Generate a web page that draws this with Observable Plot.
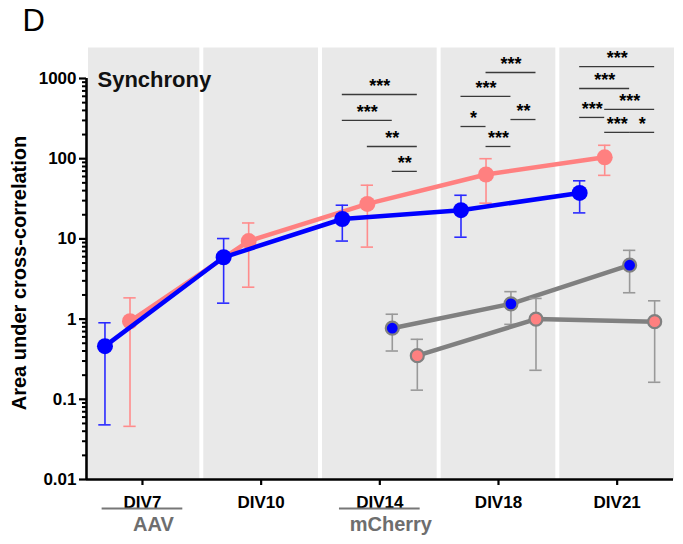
<!DOCTYPE html>
<html><head><meta charset="utf-8">
<script src="https://cdn.jsdelivr.net/npm/d3@7"></script>
<script src="https://cdn.jsdelivr.net/npm/@observablehq/plot@0.6"></script>
<style>
body{margin:0;background:#fff;}
#chart{width:683px;height:544px;}
</style></head><body><div id="chart"></div>
<script>
// ---- data ----
const days = ["DIV7", "DIV10", "DIV14", "DIV18", "DIV21"];
const yTicks = [0.01, 0.1, 1, 10, 100, 1000];

// AAV-transduced cultures (filled symbols, coloured lines)
const aavBlueDays = ["DIV7", "DIV10", "DIV14", "DIV18", "DIV21"];
const aavBlueMean = [0.46, 5.9, 17.7, 22.8, 37.4];
const aavBlueLow  = [0.048, 1.58, 9.4, 10.5, 21.1];
const aavBlueHigh = [0.90, 10.1, 26.3, 35, 53];

const aavPinkDays = ["DIV7", "DIV10", "DIV14", "DIV18", "DIV21"];
const aavPinkMean = [0.94, 9.4, 27.3, 63.5, 104];
const aavPinkLow  = [0.046, 2.5, 7.9, 27.9, 62];
const aavPinkHigh = [1.84, 15.8, 46.7, 100, 147];

// mCherry controls (grey outline, grey lines)
const mchBlueDays = ["DIV14", "DIV18", "DIV21"];
const mchBlueMean = [0.77, 1.55, 4.7];
const mchBlueLow  = [0.40, 0.86, 2.13];
const mchBlueHigh = [1.15, 2.2, 7.2];

const mchPinkDays = ["DIV14", "DIV18", "DIV21"];
const mchPinkMean = [0.35, 1.0, 0.93];
const mchPinkLow  = [0.13, 0.23, 0.163];
const mchPinkHigh = [0.56, 1.81, 1.69];

// significance brackets: day, compared groups (0 AAV blue, 1 AAV pink, 2 mCherry blue, 3 mCherry pink), bracket level, stars
const sigDay   = ["DIV14","DIV14","DIV14","DIV14","DIV18","DIV18","DIV18","DIV18","DIV18","DIV21","DIV21","DIV21","DIV21","DIV21","DIV21"];
const sigFrom  = [0, 0, 1, 2, 1, 0, 0, 2, 1, 0, 0, 1, 0, 1, 2];
const sigTo    = [3, 2, 3, 3, 3, 2, 1, 3, 2, 3, 2, 3, 1, 2, 3];
const sigLevel = [632, 300, 142, 69.5, 1188, 597, 252, 308, 142, 1409, 750, 411, 327, 213, 213];
const sigStars = ["***","***","**","**","***","***","*","**","***","***","***","***","***","***","*"];

const vectorDays   = ["DIV7", "DIV14"];
const vectorLabels = ["AAV", "mCherry"];

// ---- layout helpers ----
const groupOffset = [-0.316, -0.105, 0.105, 0.316];
const xDomain = [-0.4716, 4.5];
const yDomain = [0.01, 1000];
const bandTop = 2400;
const cap = 0.052;
const idx = d => days.indexOf(d);

function rows(ds, mean, lo, hi, g) {
  return ds.map((d, k) => ({x: idx(d) + groupOffset[g], y: mean[k], lo: lo[k], hi: hi[k]}));
}
const series = [
  {rows: rows(mchBlueDays, mchBlueMean, mchBlueLow, mchBlueHigh, 2), line: "#808080", err: "#999999", fill: "#0000ff", stroke: "#808080", r: 6.5, sw: 2.2},
  {rows: rows(mchPinkDays, mchPinkMean, mchPinkLow, mchPinkHigh, 3), line: "#808080", err: "#999999", fill: "#ff8080", stroke: "#808080", r: 6.5, sw: 2.2},
  {rows: rows(aavPinkDays, aavPinkMean, aavPinkLow, aavPinkHigh, 1), line: "#ff8080", err: "#ff8c8c", fill: "#ff8080", stroke: "none", r: 8, sw: 0},
  {rows: rows(aavBlueDays, aavBlueMean, aavBlueLow, aavBlueHigh, 0), line: "#0000ff", err: "#2a2aff", fill: "#0000ff", stroke: "none", r: 8, sw: 0}
];

const brackets = sigDay.map((d, k) => {
  const x1 = idx(d) + groupOffset[sigFrom[k]], x2 = idx(d) + groupOffset[sigTo[k]];
  return {x1, x2, xm: (x1 + x2) / 2, y: sigLevel[k], stars: sigStars[k]};
});
const vectors = vectorDays.map((d, k) => ({x: idx(d), label: vectorLabels[k]}));

const minorTicks = [];
for (const base of [0.01, 0.1, 1, 10, 100]) for (let m = 2; m <= 9; m++) minorTicks.push(base * m);

const marks = [
  Plot.rect(days, {x1: (d, i) => Math.max(i - 0.5, xDomain[0]), x2: (d, i) => i + 0.5, y1: () => yDomain[0], y2: () => bandTop, fill: "#e9e9e9", insetLeft: 2, insetRight: 2})
];
for (const s of series) {
  marks.push(
    Plot.ruleX(s.rows, {x: "x", y1: "lo", y2: "hi", stroke: s.err, strokeWidth: 1.6}),
    Plot.ruleY(s.rows, {y: "lo", x1: d => d.x - cap, x2: d => d.x + cap, stroke: s.err, strokeWidth: 1.6}),
    Plot.ruleY(s.rows, {y: "hi", x1: d => d.x - cap, x2: d => d.x + cap, stroke: s.err, strokeWidth: 1.6}),
    Plot.line(s.rows, {x: "x", y: "y", stroke: s.line, strokeWidth: 4.5}),
    Plot.dot(s.rows, {x: "x", y: "y", r: s.r, fill: s.fill, stroke: s.stroke, strokeWidth: s.sw})
  );
}
marks.push(
  Plot.ruleY(brackets, {y: "y", x1: "x1", x2: "x2", stroke: "#3a3a3a", strokeWidth: 1.3}),
  Plot.text(brackets, {x: "xm", y: "y", text: "stars", dy: -8, fontSize: 18, fontWeight: "bold", fill: "#000"}),
  // axes
  Plot.axisY({ticks: yTicks, tickFormat: d => String(d), tickSize: 7, tickPadding: 3, strokeWidth: 2.2, label: null}),
  Plot.axisY({ticks: minorTicks, tickFormat: () => "", tickSize: 4, strokeWidth: 2, label: null}),
  Plot.axisX({ticks: [0, 1, 2, 3, 4], tickFormat: i => days[i], tickSize: 6, tickPadding: 10, strokeWidth: 2.2, label: null}),
  Plot.ruleX([xDomain[0]], {x: d => d, y1: () => yDomain[0], y2: () => yDomain[1], stroke: "#000", strokeWidth: 2.6}),
  Plot.ruleY([yDomain[0]], {y: d => d, x1: () => xDomain[0], x2: () => xDomain[1] - 0.025, stroke: "#000", strokeWidth: 2.6}),
  // vector annotations under the axis
  Plot.ruleY(vectors, {y: () => yDomain[0], x1: d => d.x - 0.34, x2: d => d.x + 0.34, dy: 29, stroke: "#777", strokeWidth: 2}),
  Plot.text(vectors, {x: "x", frameAnchor: "bottom", text: "label", dx: 11, dy: 37, lineAnchor: "top", fontSize: 20, fontWeight: "bold", fill: "#6e6e6e"}),
  // titles
  Plot.text(["Synchrony"], {frameAnchor: "top-left", text: d => d, dx: 11, dy: -7, lineAnchor: "top", textAnchor: "start", fontSize: 22, fontWeight: "bold", fill: "#111"}),
  Plot.text(["D"], {frameAnchor: "top-left", text: d => d, dx: -64, dy: -70, lineAnchor: "top", textAnchor: "start", fontSize: 31, fontWeight: "normal", fill: "#000"}),
  Plot.text(["Area under cross-correlation"], {frameAnchor: "left", text: d => d, rotate: -90, textAnchor: "middle", lineAnchor: "middle", dx: -67, dy: -6, fontSize: 20, fontWeight: "bold", fill: "#000"})
);

const chart = Plot.plot({
  width: 683, height: 544,
  marginLeft: 86, marginRight: 7, marginTop: 78, marginBottom: 65,
  x: {type: "linear", domain: xDomain},
  y: {type: "log", domain: yDomain},
  style: {fontFamily: '"Liberation Sans", Arial, sans-serif', fontSize: "17px", fontWeight: "bold", background: "#fff", color: "#000", overflow: "visible"},
  marks
});
document.getElementById("chart").appendChild(chart);
</script></body></html>
